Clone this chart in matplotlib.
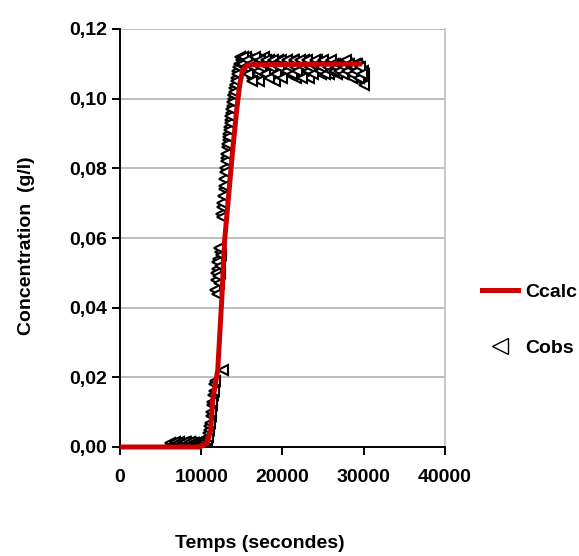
import numpy as np
import matplotlib
matplotlib.use("Agg")
import matplotlib.pyplot as plt
from matplotlib.ticker import FuncFormatter
from matplotlib.lines import Line2D

# Ccalc (model curve)
t_calc = [0, 9800, 10700, 11170, 11410, 12030, 12520, 12880, 13870, 14360, 14720, 15090, 15700, 29800]
c_calc = [0.0, 0.0, 0.0011, 0.0049, 0.0135, 0.0221, 0.0422, 0.0594, 0.0853, 0.0967, 0.1039, 0.1082, 0.1097, 0.1100]

# Cobs: baseline before the breakthrough
t_base = [6300, 6500, 6700, 6900, 7100, 7300, 7500, 7700, 7900, 8100, 8300,
          8500, 8700, 8900, 9100, 9300, 9500, 9700, 9900, 10100, 10300, 10500]
c_base = [0.0010, 0.0008, 0.0012, 0.0006, 0.0010, 0.0014, 0.0009, 0.0011, 0.0007, 0.0013, 0.0010,
          0.0008, 0.0012, 0.0009, 0.0011, 0.0006, 0.0010, 0.0013, 0.0008, 0.0012, 0.0015, 0.0020]
t_base2 = [6200, 6400, 6600, 6800, 7000, 7200, 7400, 7600, 7800, 8000, 8200, 8400,
           8600, 8800, 9000, 9200, 9400, 9600, 9800, 10000, 10200, 10400, 10600]
c_base2 = [0.0012, 0.0007, 0.0010, 0.0013, 0.0008, 0.0011, 0.0006, 0.0012, 0.0009, 0.0014, 0.0008, 0.0010,
           0.0013, 0.0007, 0.0011, 0.0009, 0.0012, 0.0008, 0.0010, 0.0014, 0.0011, 0.0016, 0.0025]

# Cobs: rising front
t_rise = [10700, 10850, 11000, 11150, 11300, 11450, 11600, 11750, 11850, 11950, 12050, 12150,
          12250, 12350, 12450, 12550, 12650, 12750, 12850, 12950, 13050, 13150, 13250, 13350,
          13450, 13550, 13650, 13750, 13850, 13950, 14050, 14150, 14300, 14450, 14600, 14750, 14900]
c_rise = [0.002, 0.004, 0.006, 0.009, 0.012, 0.015, 0.018, 0.045, 0.048, 0.051, 0.054, 0.047,
          0.056, 0.050, 0.067, 0.069, 0.022, 0.074, 0.077, 0.080, 0.083, 0.086, 0.088, 0.090,
          0.092, 0.094, 0.096, 0.098, 0.100, 0.101, 0.103, 0.104, 0.106, 0.108, 0.109, 0.110, 0.111]
t_rise2 = [10775, 10925, 11075, 11225, 11375, 11525, 11675, 11800, 11900, 12000, 12100, 12200,
           12300, 12400, 12500, 12600, 12700, 12800, 12900, 13000, 13100, 13200, 13300, 13400,
           13500, 13600, 13700, 13800, 13900, 14000, 14100, 14225, 14375, 14525, 14675, 14825]
c_rise2 = [0.003, 0.005, 0.007, 0.010, 0.013, 0.016, 0.019, 0.050, 0.044, 0.053, 0.049, 0.057,
           0.052, 0.055, 0.066, 0.070, 0.072, 0.075, 0.079, 0.082, 0.084, 0.087, 0.089, 0.091,
           0.093, 0.095, 0.097, 0.099, 0.101, 0.102, 0.104, 0.105, 0.107, 0.109, 0.110, 0.112]

# Cobs: plateau
t_plat = [15100, 15300, 15500, 15700, 15900, 16100, 16300, 16500, 16700, 16900,
          17100, 17300, 17500, 17700, 17900, 18100, 18300, 18500, 18700, 18900,
          19100, 19300, 19500, 19700, 19900, 20100, 20300, 20500, 20700, 20900,
          21100, 21300, 21500, 21700, 21900, 22100, 22300, 22500, 22700, 22900,
          23100, 23300, 23500, 23700, 23900, 24100, 24300, 24500, 24700, 24900,
          25100, 25300, 25500, 25700, 25900, 26100, 26300, 26500, 26700, 26900,
          27100, 27300, 27500, 27700, 27900, 28100, 28300, 28500, 28700, 28900,
          29100, 29300, 29500, 29700, 29900, 30000, 30000]
c_plat = [0.111, 0.110, 0.112, 0.109, 0.111, 0.108, 0.106, 0.110, 0.111, 0.107,
          0.105, 0.109, 0.110, 0.112, 0.110, 0.109, 0.111, 0.108, 0.110, 0.106,
          0.105, 0.109, 0.111, 0.110, 0.108, 0.110, 0.109, 0.111, 0.107, 0.110,
          0.109, 0.111, 0.108, 0.106, 0.110, 0.109, 0.107, 0.110, 0.111, 0.108,
          0.109, 0.106, 0.110, 0.108, 0.110, 0.109, 0.111, 0.108, 0.107, 0.110,
          0.109, 0.110, 0.108, 0.107, 0.110, 0.109, 0.108, 0.110, 0.107, 0.109,
          0.110, 0.108, 0.109, 0.107, 0.110, 0.108, 0.109, 0.106, 0.108, 0.110,
          0.107, 0.109, 0.108, 0.105, 0.108, 0.107, 0.104]
t_plat2 = [15000, 15200, 15400, 15600, 15800, 16000, 16200, 16400, 16600, 16800,
           17000, 17200, 17400, 17600, 17800, 18000, 18200, 18400, 18600, 18800,
           19000, 19200, 19400, 19600, 19800, 20000, 20200, 20400, 20600, 20800,
           21000, 21200, 21400, 21600, 21800, 22000, 22200, 22400, 22600, 22800,
           23000, 23200, 23400, 23600, 23800, 24000, 24200, 24400, 24600, 24800,
           25000, 25200, 25400, 25600, 25800, 26000, 26200, 26400, 26600, 26800,
           27000, 27200, 27400, 27600, 27800, 28000, 28200, 28400, 28600, 28800,
           29000, 29200, 29400, 29600, 29800]
c_plat2 = [0.110, 0.112, 0.109, 0.111, 0.107, 0.110, 0.105, 0.109, 0.112, 0.110,
           0.108, 0.111, 0.109, 0.110, 0.107, 0.111, 0.110, 0.106, 0.109, 0.111,
           0.110, 0.107, 0.110, 0.109, 0.111, 0.106, 0.110, 0.108, 0.111, 0.109,
           0.110, 0.107, 0.111, 0.109, 0.108, 0.110, 0.111, 0.106, 0.109, 0.110,
           0.111, 0.108, 0.109, 0.110, 0.107, 0.111, 0.109, 0.110, 0.108, 0.109,
           0.111, 0.107, 0.110, 0.109, 0.108, 0.111, 0.110, 0.108, 0.109, 0.110,
           0.108, 0.110, 0.107, 0.109, 0.111, 0.108, 0.110, 0.109, 0.107, 0.109,
           0.108, 0.110, 0.106, 0.109, 0.107]

x_ticks = [0, 10000, 20000, 30000, 40000]
y_ticks = [0.00, 0.02, 0.04, 0.06, 0.08, 0.10, 0.12]

plt.rcParams["font.family"] = ["Liberation Sans", "DejaVu Sans"]
plt.rcParams["font.weight"] = "bold"
FS = 14

fig = plt.figure(figsize=(5.79, 5.56), dpi=100)
ax = fig.add_axes([120 / 579, 109 / 556, 325 / 579, 418 / 556])

t_obs = t_base + t_base2 + t_rise + t_rise2 + t_plat + t_plat2
c_obs = c_base + c_base2 + c_rise + c_rise2 + c_plat + c_plat2
ax.plot(t_obs, c_obs, linestyle="none", marker="<", markersize=7,
        markerfacecolor="white", markeredgecolor="black", markeredgewidth=1.5, zorder=3)
ax.plot(t_calc, c_calc, color="#CC0000", linewidth=3.6, solid_capstyle="butt",
        zorder=4, clip_on=False)

ax.set_xlim(0, 40000)
ax.set_ylim(0, 0.12)
ax.set_xticks(x_ticks)
ax.set_yticks(y_ticks)
ax.yaxis.set_major_formatter(FuncFormatter(lambda v, p: f"{v:.2f}".replace(".", ",")))
ax.grid(axis="y", color="#BDBDBD", linewidth=1.4)
ax.set_axisbelow(True)

for s in ["left", "bottom"]:
    ax.spines[s].set_color("black")
    ax.spines[s].set_linewidth(1.4)
ax.spines["right"].set_color("#BDBDBD")
ax.spines["right"].set_linewidth(1.2)
ax.spines["top"].set_visible(False)

ax.tick_params(axis="both", direction="out", length=6, width=1.4, labelsize=FS)
ax.tick_params(axis="x", pad=10)
ax.tick_params(axis="y", pad=3)
for lab in ax.get_xticklabels() + ax.get_yticklabels():
    lab.set_fontweight("bold")

fig.text(260 / 579, 1 - 543 / 556, "Temps (secondes)", ha="center", va="center",
         fontsize=FS, fontweight="bold")
fig.text(27 / 579, 1 - 246 / 556, "Concentration  (g/l)", ha="center", va="center",
         rotation=90, fontsize=FS, fontweight="bold")

handles = [Line2D([], [], color="#CC0000", linewidth=3.6),
           Line2D([], [], linestyle="none", marker="<", markersize=11,
                  markerfacecolor="white", markeredgecolor="black", markeredgewidth=1.0)]
fig.legend(handles, ["Ccalc", "Cobs"], loc="center left",
           bbox_to_anchor=(482 / 579, 1 - 320 / 556), frameon=False,
           prop={"weight": "bold", "size": FS}, handlelength=1.85,
           handletextpad=0.35, labelspacing=1.95, borderpad=0, borderaxespad=0)

fig.savefig("out.png", dpi=100)
